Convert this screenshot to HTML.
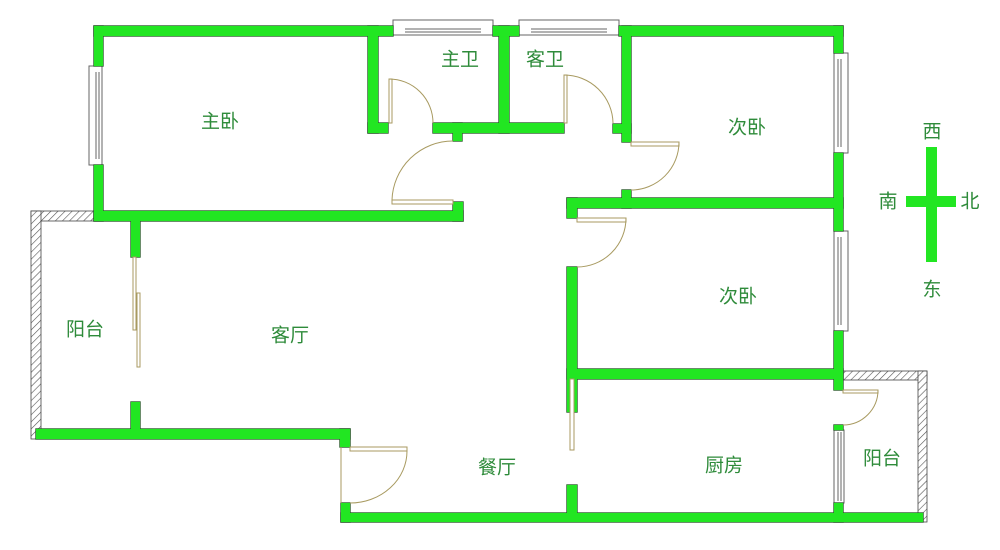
<!DOCTYPE html>
<html><head><meta charset="utf-8"><style>
html,body{margin:0;padding:0;background:#fff;}
svg{display:block;}
text{font-family:"Liberation Sans","Noto Sans CJK SC",sans-serif;font-size:19px;fill:#2e8b3a;text-anchor:middle;dominant-baseline:central;}
</style></head><body>
<svg width="1000" height="550" viewBox="0 0 1000 550" xmlns="http://www.w3.org/2000/svg">
<defs>
<pattern id="h" width="5" height="5" patternUnits="userSpaceOnUse" patternTransform="rotate(45)">
<rect width="5" height="5" fill="#fff"/><line x1="0" y1="0" x2="0" y2="5" stroke="#555" stroke-width="1.2"/>
</pattern>
<g id="walls">
<rect x="94" y="26" width="299" height="10"/>
<rect x="493" y="26" width="26" height="10"/>
<rect x="619" y="26" width="224" height="10"/>
<rect x="94" y="26" width="9" height="40"/>
<rect x="94" y="165" width="9" height="56"/>
<rect x="94" y="211" width="369" height="10"/>
<rect x="453" y="202" width="10" height="19"/>
<rect x="368" y="26" width="10" height="107"/>
<rect x="368" y="123" width="20" height="10"/>
<rect x="499" y="26" width="10" height="107"/>
<rect x="433" y="123" width="131" height="10"/>
<rect x="453" y="123" width="9" height="18"/>
<rect x="622" y="26" width="9" height="116"/>
<rect x="613" y="124" width="18" height="9"/>
<rect x="622" y="190" width="9" height="18"/>
<rect x="834" y="26" width="9" height="27"/>
<rect x="834" y="153" width="9" height="78"/>
<rect x="834" y="331" width="9" height="59"/>
<rect x="834" y="425" width="9" height="5"/>
<rect x="834" y="503" width="9" height="19"/>
<rect x="567" y="198" width="276" height="10"/>
<rect x="567" y="198" width="10" height="20"/>
<rect x="567" y="267" width="10" height="145"/>
<rect x="567" y="369" width="276" height="10"/>
<rect x="341" y="513" width="582" height="9"/>
<rect x="567" y="485" width="10" height="30"/>
<rect x="341" y="503" width="9" height="19"/>
<rect x="36" y="429" width="314" height="10"/>
<rect x="340" y="429" width="10" height="18"/>
<rect x="131" y="221" width="9" height="36"/>
<rect x="131" y="402" width="9" height="30"/>
</g>
</defs>
<rect width="1000" height="550" fill="#fff"/>
<g fill="url(#h)" stroke="#444" stroke-width="0.8">
<rect x="31" y="211" width="69" height="10"/>
<rect x="31" y="211" width="10" height="228"/>
<rect x="843" y="371" width="84" height="9"/>
<rect x="918" y="371" width="9" height="151"/>
</g>
<g fill="#fff" stroke="#666" stroke-width="1">
<rect x="393" y="20" width="100" height="15"/>
<rect x="519" y="20" width="100" height="15"/>
<rect x="89" y="66" width="13" height="99"/>
<rect x="834" y="53" width="14" height="100"/>
<rect x="834" y="231" width="14" height="100"/>
<rect x="834" y="430" width="10" height="73"/>
</g>
<g stroke="#666" stroke-width="1">
<line x1="405" y1="29" x2="481" y2="29"/><line x1="405" y1="32" x2="481" y2="32"/>
<line x1="531" y1="29" x2="607" y2="29"/><line x1="531" y1="32" x2="607" y2="32"/>
<line x1="96" y1="72" x2="96" y2="159"/><line x1="99" y1="72" x2="99" y2="159"/>
<line x1="838" y1="59" x2="838" y2="147"/><line x1="841" y1="59" x2="841" y2="147"/>
<line x1="838" y1="237" x2="838" y2="325"/><line x1="841" y1="237" x2="841" y2="325"/>
<line x1="838" y1="432" x2="838" y2="501"/><line x1="841" y1="432" x2="841" y2="501"/>
</g>
<use href="#walls" fill="#22e622" stroke="#2a5a2a" stroke-width="1.4"/>
<use href="#walls" fill="#22e622" stroke="none"/>
<g fill="none" stroke="#a89a60" stroke-width="1">
<rect x="133" y="257" width="3" height="73" fill="#fff"/>
<rect x="137" y="293" width="3" height="74" fill="#fff"/>
<rect x="570" y="379" width="4" height="71" fill="#fff"/>
<rect x="392" y="200" width="61" height="4" fill="#fff"/>
<path d="M392 200 A61 61 0 0 1 453 141"/>
<rect x="389" y="79" width="3" height="44" fill="#fff"/>
<path d="M389 79 A44 44 0 0 1 433 123"/>
<rect x="564" y="75" width="3" height="48" fill="#fff"/>
<path d="M564 75 A49 49 0 0 1 613 123"/>
<rect x="631" y="142" width="48" height="4" fill="#fff"/>
<path d="M679 142 A48 48 0 0 1 631 190"/>
<rect x="577" y="218" width="49" height="4" fill="#fff"/>
<path d="M626 218 A49 49 0 0 1 577 267"/>
<rect x="843" y="390" width="35" height="3" fill="#fff"/>
<path d="M878 390 A35 35 0 0 1 843 425"/>
<rect x="350" y="447" width="57" height="4" fill="#fff"/>
<line x1="341" y1="447" x2="341" y2="503"/>
<path d="M407 451 A57 52 0 0 1 350 503"/>
</g>
<g fill="#22e622">
<rect x="926" y="147" width="11" height="115"/>
<rect x="906" y="196" width="50" height="11"/>
</g>
<text x="220" y="122">主卧</text>
<text x="460" y="60">主卫</text>
<text x="545" y="60">客卫</text>
<text x="747" y="128">次卧</text>
<text x="738" y="297">次卧</text>
<text x="85" y="330">阳台</text>
<text x="290" y="336">客厅</text>
<text x="497" y="468">餐厅</text>
<text x="724" y="466">厨房</text>
<text x="882" y="459">阳台</text>
<text x="932" y="132">西</text>
<text x="888" y="202">南</text>
<text x="970" y="202">北</text>
<text x="932" y="290">东</text>
</svg>
</body></html>
